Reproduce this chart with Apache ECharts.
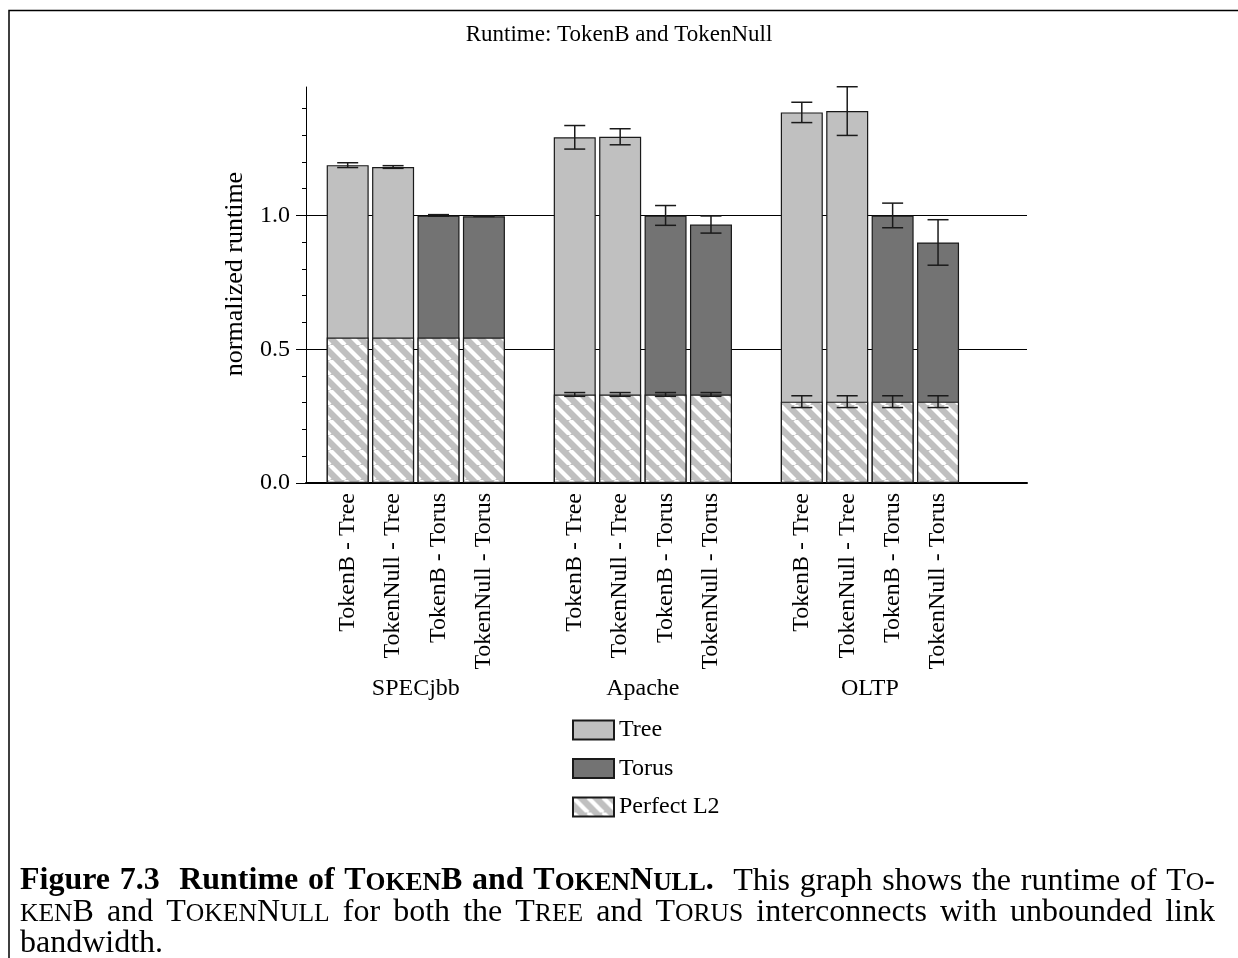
<!DOCTYPE html>
<html>
<head>
<meta charset="utf-8">
<script src="https://cdn.jsdelivr.net/npm/echarts@6/dist/echarts.min.js"></script>
<style>
  html, body { margin: 0; padding: 0; background: #fff; }
  #chart { width: 1238px; height: 958px; }
</style>
</head>
<body>
<div id="chart"></div>
<script>
// ---- data ----------------------------------------------------------------
// Bar slots along the x axis (slots 4 and 9 are the gaps between workloads)
const slots = [0, 1, 2, 3, 5, 6, 7, 8, 10, 11, 12, 13];
const barLabels = [
  'TokenB - Tree', 'TokenNull - Tree', 'TokenB - Torus', 'TokenNull - Torus',
  'TokenB - Tree', 'TokenNull - Tree', 'TokenB - Torus', 'TokenNull - Torus',
  'TokenB - Tree', 'TokenNull - Tree', 'TokenB - Torus', 'TokenNull - Torus'
];
const interconnect = [
  'Tree', 'Tree', 'Torus', 'Torus',
  'Tree', 'Tree', 'Torus', 'Torus',
  'Tree', 'Tree', 'Torus', 'Torus'
];
const workloads = ['SPECjbb', 'Apache', 'OLTP'];
const workloadCenters = [1.5, 6.5, 11.5];

// normalized runtime (total) and its error half-width
const runtime    = [1.188, 1.181, 1.000, 0.997, 1.292, 1.294, 1.000, 0.966, 1.385, 1.390, 1.000, 0.899];
const runtimeErr = [0.009, 0.005, 0.003, 0.001, 0.044, 0.030, 0.037, 0.032, 0.038, 0.091, 0.046, 0.085];
// runtime with a perfect L2 cache and its error half-width
const perfectL2    = [0.544, 0.544, 0.544, 0.544, 0.331, 0.331, 0.331, 0.331, 0.304, 0.304, 0.304, 0.304];
const perfectL2Err = [0.000, 0.000, 0.000, 0.000, 0.007, 0.007, 0.007, 0.007, 0.022, 0.022, 0.022, 0.022];

const yMajorTicks = [0, 0.5, 1.0];
const yMinorTicks = [0.1, 0.2, 0.3, 0.4, 0.6, 0.7, 0.8, 0.9, 1.1, 1.2, 1.3, 1.4];

// ---- styling helpers -----------------------------------------------------
const SERIF = '"Liberation Serif", "Times New Roman", serif';
const INK = '#1a1a1a';

function hatchPattern() {
  const s = 15;
  const c = document.createElement('canvas');
  c.width = s; c.height = s;
  const g = c.getContext('2d');
  g.fillStyle = '#c0c0c0';
  g.fillRect(0, 0, s, s);
  g.strokeStyle = '#ffffff';
  g.lineWidth = 4.2;
  for (let k = -1; k <= 1; k++) {
    g.beginPath();
    g.moveTo(k * s, 0);
    g.lineTo(k * s + s, s);
    g.stroke();
  }
  return c;
}

const barBorder = { borderColor: INK, borderWidth: 1.2 };

const treeData = [], torusData = [], l2Data = [], errData = [];
slots.forEach((x, i) => {
  (interconnect[i] === 'Tree' ? treeData : torusData).push([x, runtime[i]]);
  l2Data.push([x, perfectL2[i]]);
  errData.push([x, runtime[i] - runtimeErr[i], runtime[i] + runtimeErr[i]]);
  if (perfectL2Err[i] > 0) {
    errData.push([x, perfectL2[i] - perfectL2Err[i], perfectL2[i] + perfectL2Err[i]]);
  }
});

// ---- caption (justified, with small caps) --------------------------------
const CAP_SIZE = 32;
const SMALL_SIZE = 25.6;
const captionLines = [
  { baseline: 892, justify: true, words: [
    [['Figure', 'b']], [['7.3', 'b']], '|', [['Runtime', 'b']], [['of', 'b']],
    [['T', 'b'], ['OKEN', 'bs'], ['B', 'b']], [['and', 'b']],
    [['T', 'b'], ['OKEN', 'bs'], ['N', 'b'], ['ULL', 'bs'], ['.', 'b']], '|',
    [['This', 'n']], [['graph', 'n']], [['shows', 'n']], [['the', 'n']],
    [['runtime', 'n']], [['of', 'n']], [['T', 'n'], ['O', 'ns'], ['-', 'n']]
  ]},
  { baseline: 923, justify: true, words: [
    [['KEN', 'ns'], ['B', 'n']], [['and', 'n']],
    [['T', 'n'], ['OKEN', 'ns'], ['N', 'n'], ['ULL', 'ns']], [['for', 'n']],
    [['both', 'n']], [['the', 'n']], [['T', 'n'], ['REE', 'ns']], [['and', 'n']],
    [['T', 'n'], ['ORUS', 'ns']], [['interconnects', 'n']], [['with', 'n']],
    [['unbounded', 'n']], [['link', 'n']]
  ]},
  { baseline: 954, justify: false, words: [ [['bandwidth.', 'n']] ] }
];

function segFont(kind) {
  const bold = kind[0] === 'b';
  const size = kind.length > 1 ? SMALL_SIZE : CAP_SIZE;
  return { font: (bold ? 'bold ' : '') + size + 'px ' + SERIF, size };
}

function buildCaption(x0, x1) {
  const ctx = document.createElement('canvas').getContext('2d');
  const out = [];
  captionLines.forEach(line => {
    const words = [];
    const weights = [];
    let pendingWeight = 1;
    line.words.forEach(w => {
      if (w === '|') { pendingWeight = 2; return; }
      const segs = w.map(([t, kind]) => {
        const f = segFont(kind);
        ctx.font = f.font;
        return { t, font: f.font, size: f.size, w: ctx.measureText(t).width };
      });
      if (words.length) weights.push(pendingWeight);
      pendingWeight = 1;
      words.push({ segs, w: segs.reduce((a, s) => a + s.w, 0) });
    });
    ctx.font = CAP_SIZE + 'px ' + SERIF;
    const natural = ctx.measureText(' ').width;
    const sumW = words.reduce((a, w) => a + w.w, 0);
    const sumWeights = weights.reduce((a, b) => a + b, 0);
    const unit = line.justify && sumWeights ? (x1 - x0 - sumW) / sumWeights : natural;
    let x = x0;
    words.forEach((w, i) => {
      w.segs.forEach(s => {
        out.push({
          type: 'text', x: x, y: line.baseline - 0.3375 * s.size, silent: true,
          style: { text: s.t, font: s.font, fill: '#000', align: 'left', verticalAlign: 'middle' }
        });
        x += s.w;
      });
      if (i < weights.length) x += unit * weights[i];
    });
  });
  return out;
}

// ---- chart ---------------------------------------------------------------
const X_MIN = -0.918, X_MAX = 14.959, Y_MAX = 1.48;
const chart = echarts.init(document.getElementById('chart'), null, { renderer: 'canvas' });

const option = {
  animation: false,
  backgroundColor: '#ffffff',
  title: {
    text: 'Runtime: TokenB and TokenNull',
    left: 'center', top: 23, padding: 0,
    textStyle: { fontFamily: SERIF, fontSize: 23, fontWeight: 'normal', color: '#000' }
  },
  legend: {
    data: ['Tree', 'Torus', 'Perfect L2'],
    orient: 'vertical', left: 572, top: 718, padding: 0,
    itemWidth: 41, itemHeight: 19, itemGap: 14.5, icon: 'rect',
    selectedMode: false,
    textStyle: { fontFamily: SERIF, fontSize: 24, color: '#000', lineHeight: 19 }
  },
  grid: { left: 306, top: 87, width: 721, height: 396, containLabel: false },
  xAxis: [{
    type: 'value', min: X_MIN, max: X_MAX,
    axisLine: { show: true, onZero: false, lineStyle: { color: '#000', width: 2 } },
    axisTick: { show: false },
    splitLine: { show: false },
    axisLabel: {
      customValues: slots,
      formatter: v => barLabels[slots.indexOf(v)],
      rotate: 90, margin: 10,
      fontFamily: SERIF, fontSize: 24, color: '#000'
    }
  }, {
    type: 'value', min: X_MIN, max: X_MAX, position: 'bottom',
    axisLine: { show: false, onZero: false }, axisTick: { show: false }, splitLine: { show: false },
    axisLabel: {
      customValues: workloadCenters,
      formatter: v => workloads[workloadCenters.indexOf(v)],
      margin: 194,
      fontFamily: SERIF, fontSize: 24, color: '#000'
    }
  }],
  yAxis: [{
    type: 'value', min: 0, max: Y_MAX, interval: 0.5,
    name: 'normalized runtime', nameLocation: 'middle', nameGap: 58,
    nameTextStyle: { fontFamily: SERIF, fontSize: 26, color: '#000', padding: [0, 0, 0, 22] },
    axisLine: { show: true, onZero: false, lineStyle: { color: '#000', width: 1 } },
    axisTick: { show: true, length: 10, customValues: yMajorTicks, lineStyle: { color: '#000', width: 1 } },
    axisLabel: {
      customValues: yMajorTicks, formatter: v => v.toFixed(1), margin: 16,
      fontFamily: SERIF, fontSize: 24, color: '#000'
    },
    splitLine: { show: true, showMinLine: false, showMaxLine: true, lineStyle: { color: '#000', width: 1 } }
  }, {
    type: 'value', min: 0, max: Y_MAX, interval: 0.1, position: 'left',
    axisLine: { show: false, onZero: false },
    axisTick: { show: true, length: 4, customValues: yMinorTicks, lineStyle: { color: '#000', width: 1 } },
    axisLabel: { show: false },
    splitLine: { show: false }
  }],
  series: [
    {
      name: 'Tree', type: 'bar', xAxisIndex: 0, yAxisIndex: 0,
      barWidth: 42, barGap: '-100%', z: 2,
      itemStyle: Object.assign({ color: '#c0c0c0' }, barBorder),
      data: treeData
    },
    {
      name: 'Torus', type: 'bar', xAxisIndex: 0, yAxisIndex: 0,
      barWidth: 42, barGap: '-100%', z: 2,
      itemStyle: Object.assign({ color: '#737373' }, barBorder),
      data: torusData
    },
    {
      name: 'Perfect L2', type: 'bar', xAxisIndex: 0, yAxisIndex: 0,
      barWidth: 42, barGap: '-100%', z: 3,
      itemStyle: Object.assign({ color: { image: hatchPattern(), repeat: 'repeat' } }, barBorder),
      data: l2Data
    },
    {
      name: 'error', type: 'custom', xAxisIndex: 0, yAxisIndex: 0, z: 5, silent: true,
      encode: { x: 0, y: [1, 2] },
      renderItem: (params, api) => {
        const x = api.value(0);
        const top = api.coord([x, api.value(2)]);
        const bot = api.coord([x, api.value(1)]);
        const w = 10.5;
        const style = { stroke: INK, lineWidth: 1.5, fill: null };
        return {
          type: 'group',
          children: [
            { type: 'line', shape: { x1: top[0], y1: top[1], x2: bot[0], y2: bot[1] }, style },
            { type: 'line', shape: { x1: top[0] - w, y1: top[1], x2: top[0] + w, y2: top[1] }, style },
            { type: 'line', shape: { x1: bot[0] - w, y1: bot[1], x2: bot[0] + w, y2: bot[1] }, style }
          ]
        };
      },
      data: errData
    }
  ],
  graphic: [
    {
      type: 'polyline', silent: true,
      shape: { points: [[9, 958], [9, 10.5], [1238, 10.5]] },
      style: { stroke: '#000', lineWidth: 1.5, fill: null }
    }
  ].concat(buildCaption(20, 1215))
};

chart.setOption(option);
</script>
</body>
</html>
